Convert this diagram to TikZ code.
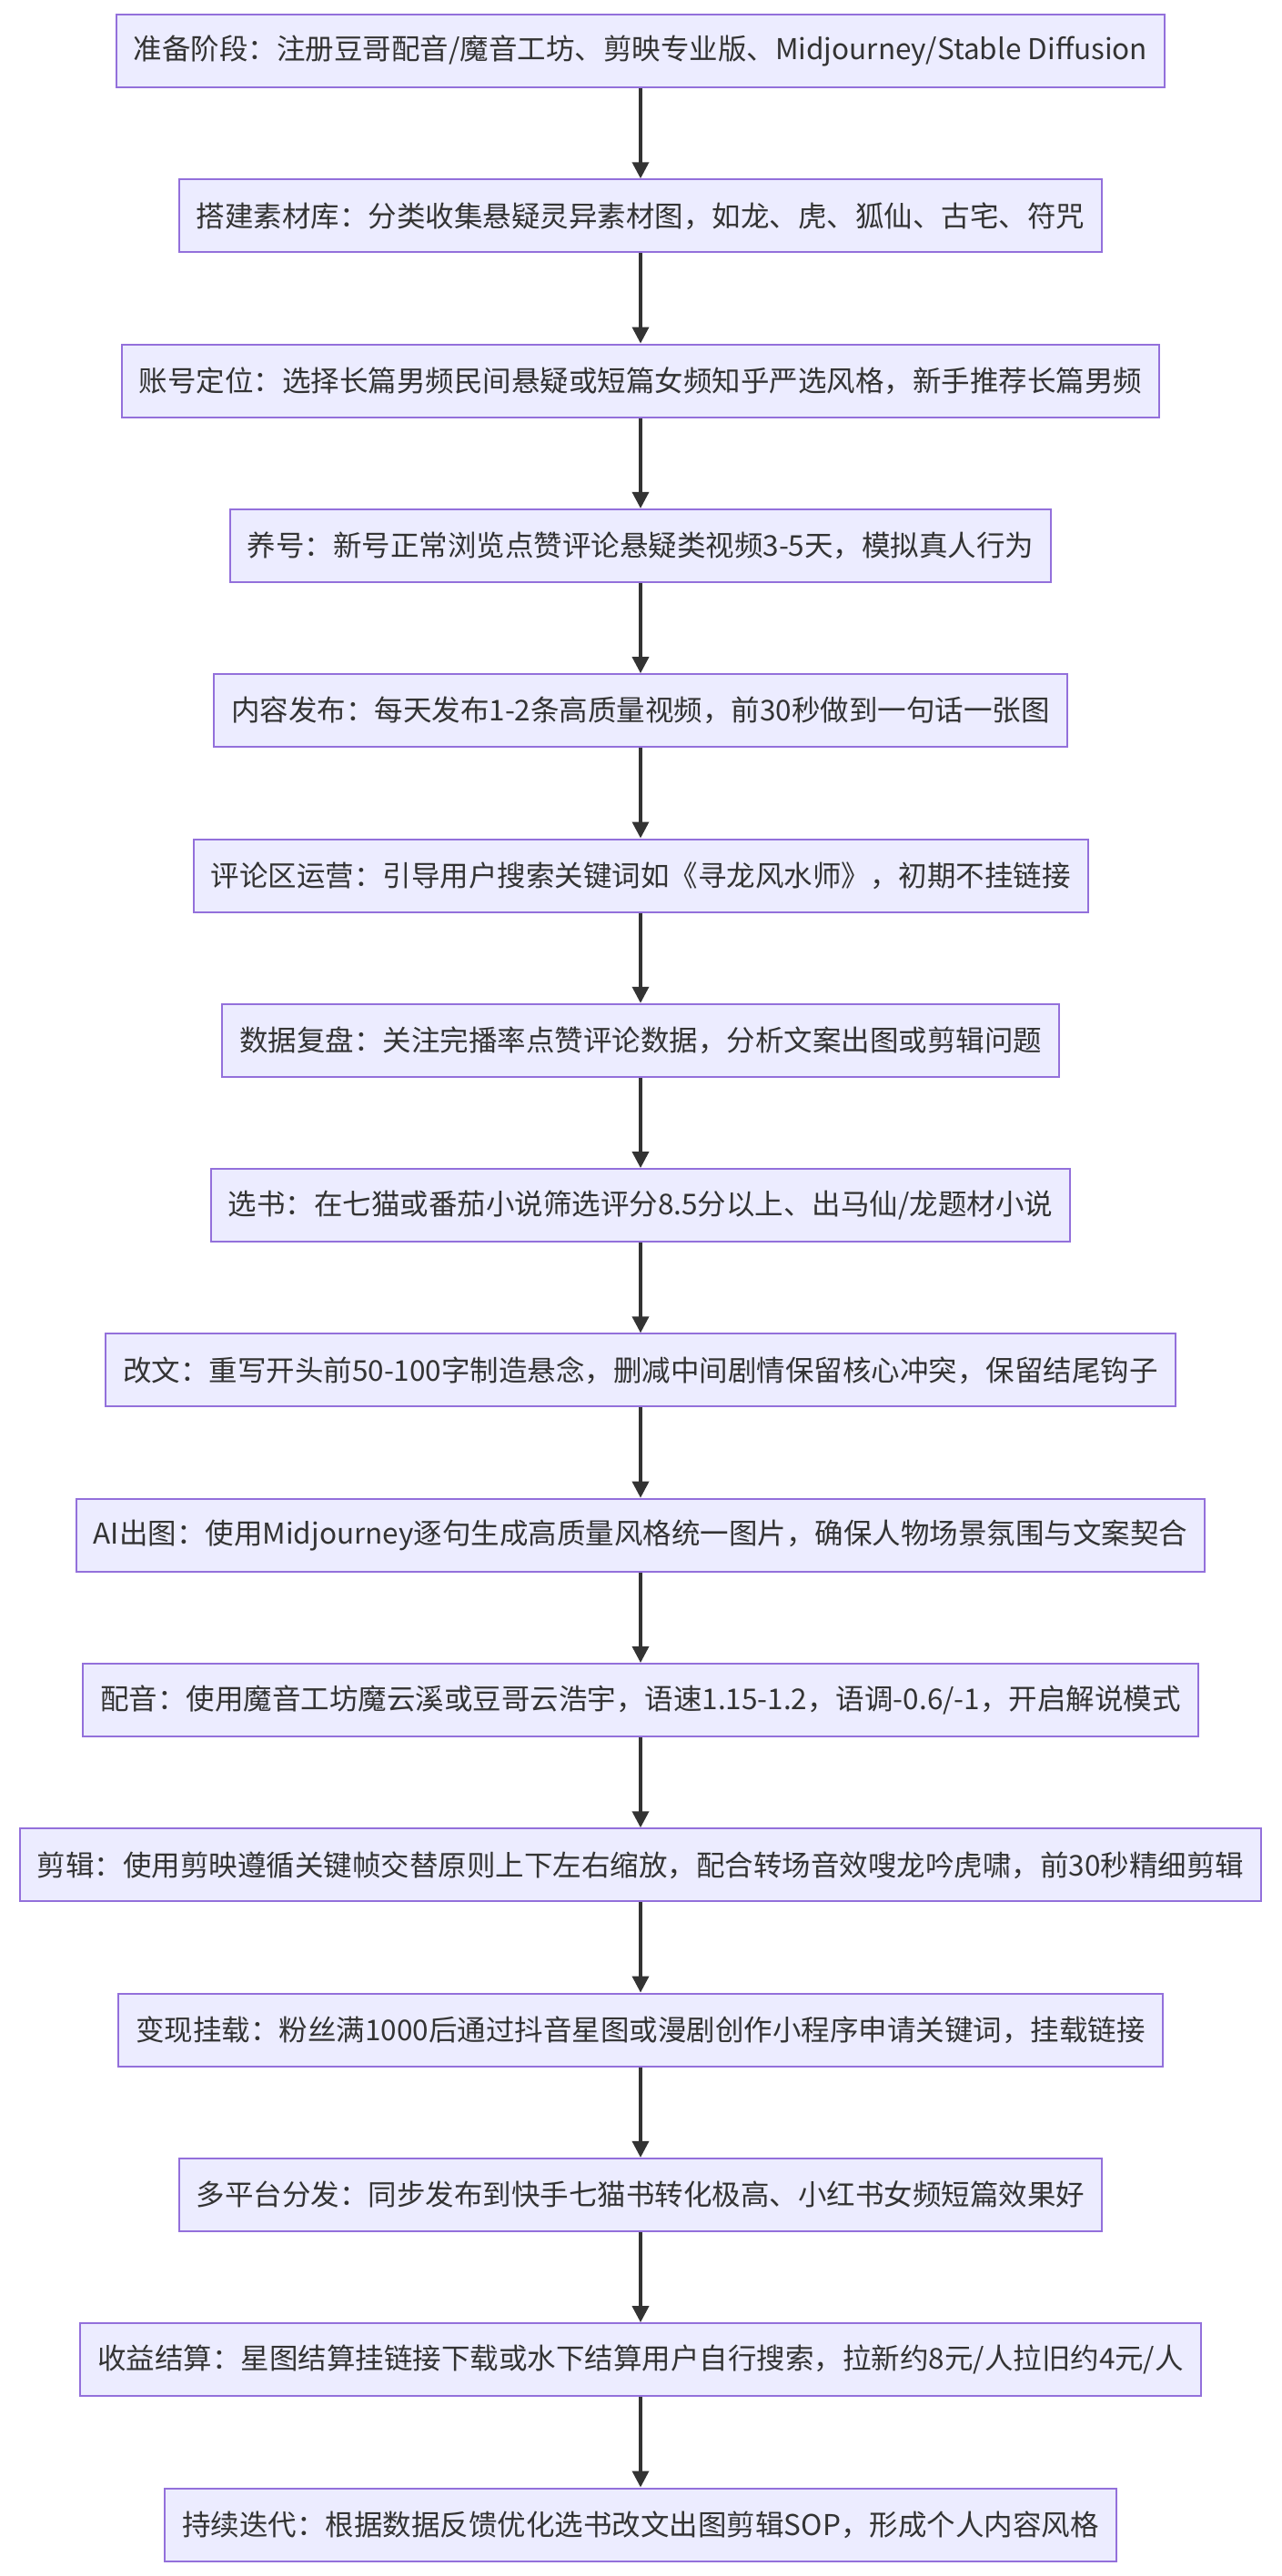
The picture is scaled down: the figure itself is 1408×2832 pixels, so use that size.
\documentclass[tikz,border=0pt]{standalone}
\usepackage{fontspec}
\setmainfont{Noto Sans CJK SC}
\usetikzlibrary{arrows.meta}
\definecolor{boxfill}{HTML}{ECECFF}
\definecolor{boxdraw}{HTML}{9370DB}
\definecolor{arr}{HTML}{333333}
\tikzset{stepbox/.style={draw=boxdraw,fill=boxfill,line width=2pt,minimum height=80pt,inner xsep=19pt,font=\fontsize{31.5}{36}\selectfont,text=arr},
conn/.style={draw=arr,line width=3.5pt,-{Triangle[length=18pt,width=18pt]}}}
\begin{document}
\begin{tikzpicture}[x=1pt,y=-1pt]
\useasboundingbox[fill=white] (0,0) rectangle (1408,2832);
\def\st{181.3}
\node[stepbox] (n1) at (704,56) {准备阶段：注册豆哥配音/魔音工坊、剪映专业版、Midjourney/Stable Diffusion};
\node[stepbox] (n2) at (704,56+\st) {搭建素材库：分类收集悬疑灵异素材图，如龙、虎、狐仙、古宅、符咒};
\node[stepbox] (n3) at (704,56+2*\st) {账号定位：选择长篇男频民间悬疑或短篇女频知乎严选风格，新手推荐长篇男频};
\node[stepbox] (n4) at (704,56+3*\st) {养号：新号正常浏览点赞评论悬疑类视频3-5天，模拟真人行为};
\node[stepbox] (n5) at (704,56+4*\st) {内容发布：每天发布1-2条高质量视频，前30秒做到一句话一张图};
\node[stepbox] (n6) at (704,56+5*\st) {评论区运营：引导用户搜索关键词如《寻龙风水师》，初期不挂链接};
\node[stepbox] (n7) at (704,56+6*\st) {数据复盘：关注完播率点赞评论数据，分析文案出图或剪辑问题};
\node[stepbox] (n8) at (704,56+7*\st) {选书：在七猫或番茄小说筛选评分8.5分以上、出马仙/龙题材小说};
\node[stepbox] (n9) at (704,56+8*\st) {改文：重写开头前50-100字制造悬念，删减中间剧情保留核心冲突，保留结尾钩子};
\node[stepbox] (n10) at (704,56+9*\st) {AI出图：使用Midjourney逐句生成高质量风格统一图片，确保人物场景氛围与文案契合};
\node[stepbox] (n11) at (704,56+10*\st) {配音：使用魔音工坊魔云溪或豆哥云浩宇，语速1.15-1.2，语调-0.6/-1，开启解说模式};
\node[stepbox] (n12) at (704,56+11*\st) {剪辑：使用剪映遵循关键帧交替原则上下左右缩放，配合转场音效嗖龙吟虎啸，前30秒精细剪辑};
\node[stepbox] (n13) at (704,56+12*\st) {变现挂载：粉丝满1000后通过抖音星图或漫剧创作小程序申请关键词，挂载链接};
\node[stepbox] (n14) at (704,56+13*\st) {多平台分发：同步发布到快手七猫书转化极高、小红书女频短篇效果好};
\node[stepbox] (n15) at (704,56+14*\st) {收益结算：星图结算挂链接下载或水下结算用户自行搜索，拉新约8元/人拉旧约4元/人};
\node[stepbox] (n16) at (704,56+15*\st) {持续迭代：根据数据反馈优化选书改文出图剪辑SOP，形成个人内容风格};
\foreach \a [evaluate=\a as \b using int(\a+1)] in {1,...,15}
  \draw[conn] (n\a) -- (n\b);
\end{tikzpicture}
\end{document}
